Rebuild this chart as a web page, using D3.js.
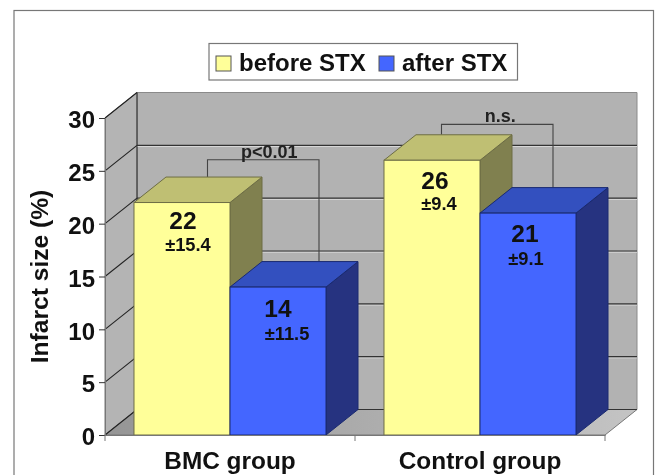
<!DOCTYPE html>
<html>
<head>
<meta charset="utf-8">
<script src="https://cdn.jsdelivr.net/npm/d3@7"></script>
<style>
    html, body { margin: 0; padding: 0; background: #fff; }
    svg { display: block; filter: blur(0.45px); }
    text { font-family: "Liberation Sans", Arial, sans-serif; font-weight: bold; fill: #111; }
</style>
</head>
<body>
<svg id="chart" width="658" height="475"></svg>
<script>
// Values
const groups = ['BMC group', 'Control group'];
const seriesNames = ['before STX', 'after STX'];
const beforeValues = [22, 26];
const afterValues = [14, 21];
const beforeSD = ['±15.4', '±9.4'];
const afterSD = ['±11.5', '±9.1'];
const yTicks = [0, 5, 10, 15, 20, 25, 30];
const bracketLabels = ['p<0.01', 'n.s.'];
const bracketTops = [26.05, 29.4];

const svg = d3.select('#chart');

// Plot box and the 3D depth offset
const plotLeft = 105, plotRight = 605, plotBottom = 435, plotTop = 118;
const depthX = 32, depthY = -25.5;

const y = d3.scaleLinear().domain([0, 30]).range([plotBottom, plotTop]);
const x0 = d3.scaleBand().domain(groups).range([plotLeft, plotRight]);
const x1 = d3.scaleBand().domain(seriesNames).range([0, x0.bandwidth()]).paddingOuter(0.302);

const faces = {
    'before STX': {front: '#ffff99', top: '#bfbf73', side: '#80804f', stroke: '#6d6d45'},
    'after STX': {front: '#4466ff', top: '#3350bf', side: '#263380', stroke: '#1a2a70'}
};

const pts = arr => arr.map(p => p.join(',')).join(' ');

// Outer frame
svg.append('rect')
    .attr('x', 14).attr('y', 10.5)
    .attr('width', 639.5).attr('height', 480)
    .attr('fill', '#fff').attr('stroke', '#777').attr('stroke-width', 1.2);

// Walls and floor
const defs = svg.append('defs');
const floorGrad = defs.append('linearGradient').attr('id', 'floorGrad');
floorGrad.append('stop').attr('offset', '0%').attr('stop-color', '#959595');
floorGrad.append('stop').attr('offset', '100%').attr('stop-color', '#c4c4c4');

svg.append('polygon')
    .attr('points', pts([[plotLeft + depthX, plotTop + depthY], [plotRight + depthX, plotTop + depthY],
        [plotRight + depthX, plotBottom + depthY], [plotLeft + depthX, plotBottom + depthY]]))
    .attr('fill', '#b2b2b2').attr('stroke', '#8a8a8a');

svg.append('polygon')
    .attr('points', pts([[plotLeft, plotTop], [plotLeft + depthX, plotTop + depthY],
        [plotLeft + depthX, plotBottom + depthY], [plotLeft, plotBottom]]))
    .attr('fill', '#b4b4b4').attr('stroke', '#777');

svg.append('polygon')
    .attr('points', pts([[plotLeft, plotBottom], [plotLeft + depthX, plotBottom + depthY],
        [plotRight + depthX, plotBottom + depthY], [plotRight, plotBottom]]))
    .attr('fill', 'url(#floorGrad)').attr('stroke', '#777');

// Gridlines on the back and side walls
const grid = svg.append('g');
grid.selectAll('.gridLight')
    .data(yTicks.filter(d => d > 0 && d < 30))
    .enter()
    .append('line')
    .attr('x1', plotLeft + depthX).attr('x2', plotRight + depthX)
    .attr('y1', d => y(d) + depthY + 1.2).attr('y2', d => y(d) + depthY + 1.2)
    .attr('stroke', '#d8d8d8');
grid.selectAll('.gridBack')
    .data(yTicks.slice(0, -1))
    .enter()
    .append('line')
    .attr('x1', plotLeft + depthX).attr('x2', plotRight + depthX)
    .attr('y1', d => y(d) + depthY).attr('y2', d => y(d) + depthY)
    .attr('stroke', '#333').attr('stroke-width', 1.1);
grid.selectAll('.gridSide')
    .data(yTicks)
    .enter()
    .append('line')
    .attr('x1', plotLeft).attr('y1', d => y(d))
    .attr('x2', plotLeft + depthX).attr('y2', d => y(d) + depthY)
    .attr('stroke', '#222').attr('stroke-width', 1.1);
svg.append('line')
    .attr('x1', plotLeft + depthX).attr('x2', plotLeft + depthX)
    .attr('y1', plotTop + depthY).attr('y2', plotBottom + depthY)
    .attr('stroke', '#333');

// Significance brackets sit behind the bars
const rows = groups.map((g, i) => ({group: g, i, bars: [
    {name: seriesNames[0], value: beforeValues[i], sd: beforeSD[i]},
    {name: seriesNames[1], value: afterValues[i], sd: afterSD[i]}
]}));

const bracketNudge = [[73.5, 89], [57.5, 73]];
const bracketLabelNudge = [6, 3];

rows.forEach(r => {
    const xa = x0(r.group) + x1(seriesNames[0]) + bracketNudge[r.i][0];
    const xb = x0(r.group) + x1(seriesNames[1]) + bracketNudge[r.i][1];
    const yt = y(bracketTops[r.i]);
    svg.append('polyline')
        .attr('points', pts([[xa, y(r.bars[0].value) + depthY], [xa, yt], [xb, yt], [xb, y(r.bars[1].value) + depthY]]))
        .attr('fill', 'none').attr('stroke', '#444').attr('stroke-width', 1.1);
    svg.append('text')
        .attr('x', (xa + xb) / 2 + bracketLabelNudge[r.i])
        .attr('y', yt - 2)
        .attr('text-anchor', 'middle')
        .style('font-size', '18px')
        .style('fill', '#222')
        .text(bracketLabels[r.i]);
});

// Bars, drawn in order so the nearer faces stay on top
const bars = svg.append('g');
rows.forEach(r => {
    r.bars.forEach(b => {
        const c = faces[b.name];
        const xl = x0(r.group) + x1(b.name);
        const xr = xl + x1.bandwidth();
        const yt = y(b.value);
        const yb = y(0);
        bars.append('polygon')
            .attr('points', pts([[xr, yt], [xr + depthX, yt + depthY], [xr + depthX, yb + depthY], [xr, yb]]))
            .attr('fill', c.side).attr('stroke', c.stroke);
        bars.append('polygon')
            .attr('points', pts([[xl, yt], [xl + depthX, yt + depthY], [xr + depthX, yt + depthY], [xr, yt]]))
            .attr('fill', c.top).attr('stroke', c.stroke);
        bars.append('rect')
            .attr('x', xl).attr('y', yt)
            .attr('width', x1.bandwidth()).attr('height', yb - yt)
            .attr('fill', c.front).attr('stroke', c.stroke);
    });
});

// Mean and SD labels inside the bars
const meanNudge = [[1, 26.5], [0, 30], [3, 29], [-3, 28.5]];
const sdNudge = [[6, 48.5], [9, 52.5], [7, 50], [-2, 51.5]];
const flatBars = rows.flatMap(r => r.bars.map(b => ({...b, group: r.group})));
flatBars.forEach((b, i) => {
    const cx = x0(b.group) + x1(b.name) + x1.bandwidth() / 2;
    svg.append('text')
        .attr('x', cx + meanNudge[i][0])
        .attr('y', y(b.value) + meanNudge[i][1])
        .attr('text-anchor', 'middle')
        .style('font-size', '24.5px')
        .text(b.value);
    svg.append('text')
        .attr('x', cx + sdNudge[i][0])
        .attr('y', y(b.value) + sdNudge[i][1])
        .attr('text-anchor', 'middle')
        .style('font-size', '18.3px')
        .text(b.sd);
});

// Y axis
const yAxis = svg.append('g')
    .attr('transform', `translate(${plotLeft},0)`)
    .call(d3.axisLeft(y).tickValues(yTicks).tickSize(6).tickPadding(4));
yAxis.selectAll('.tick text').style('font-size', '24px').attr('y', 2);
yAxis.selectAll('line').attr('stroke', '#333');
yAxis.select('.domain').attr('stroke', '#777');

svg.append('text')
    .attr('transform', 'rotate(-90)')
    .attr('x', -276.5)
    .attr('y', 48)
    .attr('text-anchor', 'middle')
    .style('font-size', '24.6px')
    .text('Infarct size (%)');

// X axis
const xAxis = svg.append('g')
    .attr('transform', `translate(0,${plotBottom})`)
    .call(d3.axisBottom(x0).tickSize(0).tickPadding(17));
xAxis.selectAll('.tick text').style('font-size', '24.4px');
xAxis.select('.domain').attr('stroke', '#777');
xAxis.selectAll('.edge')
    .data([plotLeft, x0(groups[1]), plotRight])
    .enter()
    .append('line')
    .attr('x1', d => d).attr('x2', d => d)
    .attr('y1', 0).attr('y2', 6)
    .attr('stroke', '#777');

// Legend
const legend = svg.append('g');
legend.append('rect')
    .attr('x', 209).attr('y', 43.5)
    .attr('width', 308.5).attr('height', 36.5)
    .attr('fill', '#fff').attr('stroke', '#777').attr('stroke-width', 1.2);
const legendX = d3.scaleOrdinal().domain(seriesNames).range([216, 379]);
seriesNames.forEach(name => {
    legend.append('rect')
        .attr('x', legendX(name)).attr('y', 56)
        .attr('width', 15).attr('height', 15)
        .attr('fill', faces[name].front).attr('stroke', '#555');
    legend.append('text')
        .attr('x', legendX(name) + 23)
        .attr('y', 71)
        .style('font-size', '24px')
        .text(name);
});
</script>
</body>
</html>
